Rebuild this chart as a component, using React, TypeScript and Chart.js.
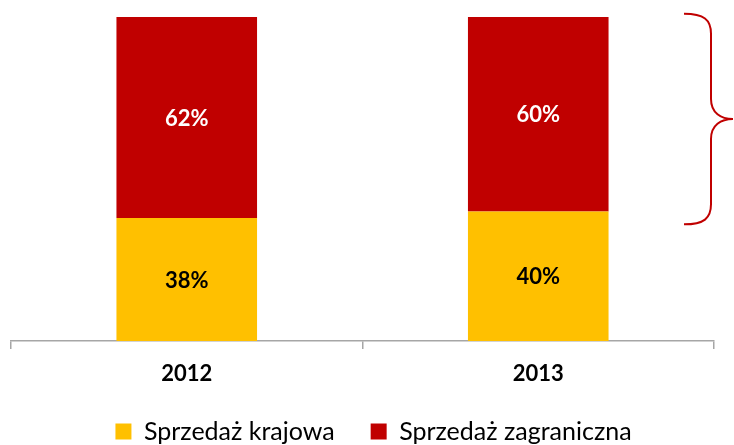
import React, { useEffect, useRef } from "react";
import { Chart, registerables } from "chart.js";

Chart.register(...registerables);

const categories = ["2012", "2013"];
const domestic = [38, 40];
const foreign = [62, 60];
const seriesNames = ["Sprzedaż krajowa", "Sprzedaż zagraniczna"];
const braceSpan = [101, 36];

const RED = "#C00000";
const YELLOW = "#FFC000";
const FONT = "Lato";

const labelPlugin = {
  id: "segLabels",
  afterDatasetsDraw(chart: any) {
    const ctx = chart.ctx;
    ctx.save();
    ctx.font = `bold 22px ${FONT}`;
    ctx.textAlign = "center";
    ctx.textBaseline = "middle";
    chart.data.datasets.forEach((ds: any, di: number) => {
      const meta = chart.getDatasetMeta(di);
      meta.data.forEach((el: any, i: number) => {
        const v = ds.data[i];
        ctx.fillStyle = di === 0 ? "#000000" : "#FFFFFF";
        ctx.fillText(`${v}%`, el.x, (el.y + el.base) / 2 + 1);
      });
    });
    ctx.restore();
  },
};

const bracePlugin = {
  id: "brace",
  afterDatasetsDraw(chart: any) {
    const ctx = chart.ctx;
    const ys = chart.scales.y;
    const right = chart.chartArea.right;
    const y0 = ys.getPixelForValue(braceSpan[0]);
    const y1 = ys.getPixelForValue(braceSpan[1]);
    const ym = (y0 + y1) / 2;
    const xa = right - 30;
    const xb = right - 3;
    const xc = right + 19;
    const r = 20;
    ctx.save();
    ctx.strokeStyle = RED;
    ctx.lineWidth = 2;
    ctx.beginPath();
    ctx.moveTo(xa, y0);
    ctx.bezierCurveTo(xa + 20, y0, xb, y0 + 6, xb, y0 + r);
    ctx.lineTo(xb, ym - r);
    ctx.bezierCurveTo(xb, ym - 6, xb + 10, ym, xc, ym);
    ctx.bezierCurveTo(xb + 10, ym, xb, ym + 6, xb, ym + r);
    ctx.lineTo(xb, y1 - r);
    ctx.bezierCurveTo(xb, y1 - 6, xa + 20, y1, xa, y1);
    ctx.stroke();
    ctx.restore();
  },
};

const legendShift = {
  id: "legendShift",
  afterLayout(chart: any) {
    const lg = chart.legend;
    if (!lg) return;
    const dy = -6;
    const dx = 11;
    lg.top += dy;
    lg.bottom += dy;
    lg.left += dx;
    lg.right += dx;
  },
};

export default function App() {
  const ref = useRef<HTMLCanvasElement | null>(null);
  useEffect(() => {
    if (!ref.current) return;
    const chart = new Chart(ref.current, {
      type: "bar",
      data: {
        labels: categories,
        datasets: [
          { label: seriesNames[0], data: domestic, backgroundColor: YELLOW, borderWidth: 0 },
          { label: seriesNames[1], data: foreign, backgroundColor: RED, borderWidth: 0 },
        ],
      },
      options: {
        animation: false,
        responsive: false,
        maintainAspectRatio: false,
        layout: { padding: { left: 11, right: 20, top: 17, bottom: -15 } },
        datasets: { bar: { categoryPercentage: 1, barPercentage: 0.4 } },
        scales: {
          x: {
            stacked: true,
            grid: {
              display: true,
              drawOnChartArea: false,
              drawTicks: true,
              tickLength: 8,
              color: "#A6A6A6",
              lineWidth: 1.5,
              offset: true,
            },
            border: { display: true, color: "#A6A6A6", width: 1.5 },
            ticks: {
              color: "#000000",
              font: { family: FONT, size: 22, weight: "bold" },
              padding: 12,
            },
            afterFit(scale: any) {
              scale.height = 48;
            },
          },
          y: { stacked: true, min: 0, max: 100, display: false },
        },
        plugins: {
          legend: {
            position: "bottom",
            labels: {
              color: "#000000",
              font: { family: FONT, size: 25 },
              boxWidth: 16,
              boxHeight: 16,
              padding: 36,
            },
          },
          tooltip: { enabled: false },
        },
      },
      plugins: [labelPlugin, bracePlugin, legendShift],
    } as any);
    return () => chart.destroy();
  }, []);
  return (
    <div style={{ position: "fixed", left: 0, top: 0, width: 734, height: 445, background: "#fff" }}>
      <canvas ref={ref} width={734} height={445} style={{ width: 734, height: 445 }} />
    </div>
  );
}
